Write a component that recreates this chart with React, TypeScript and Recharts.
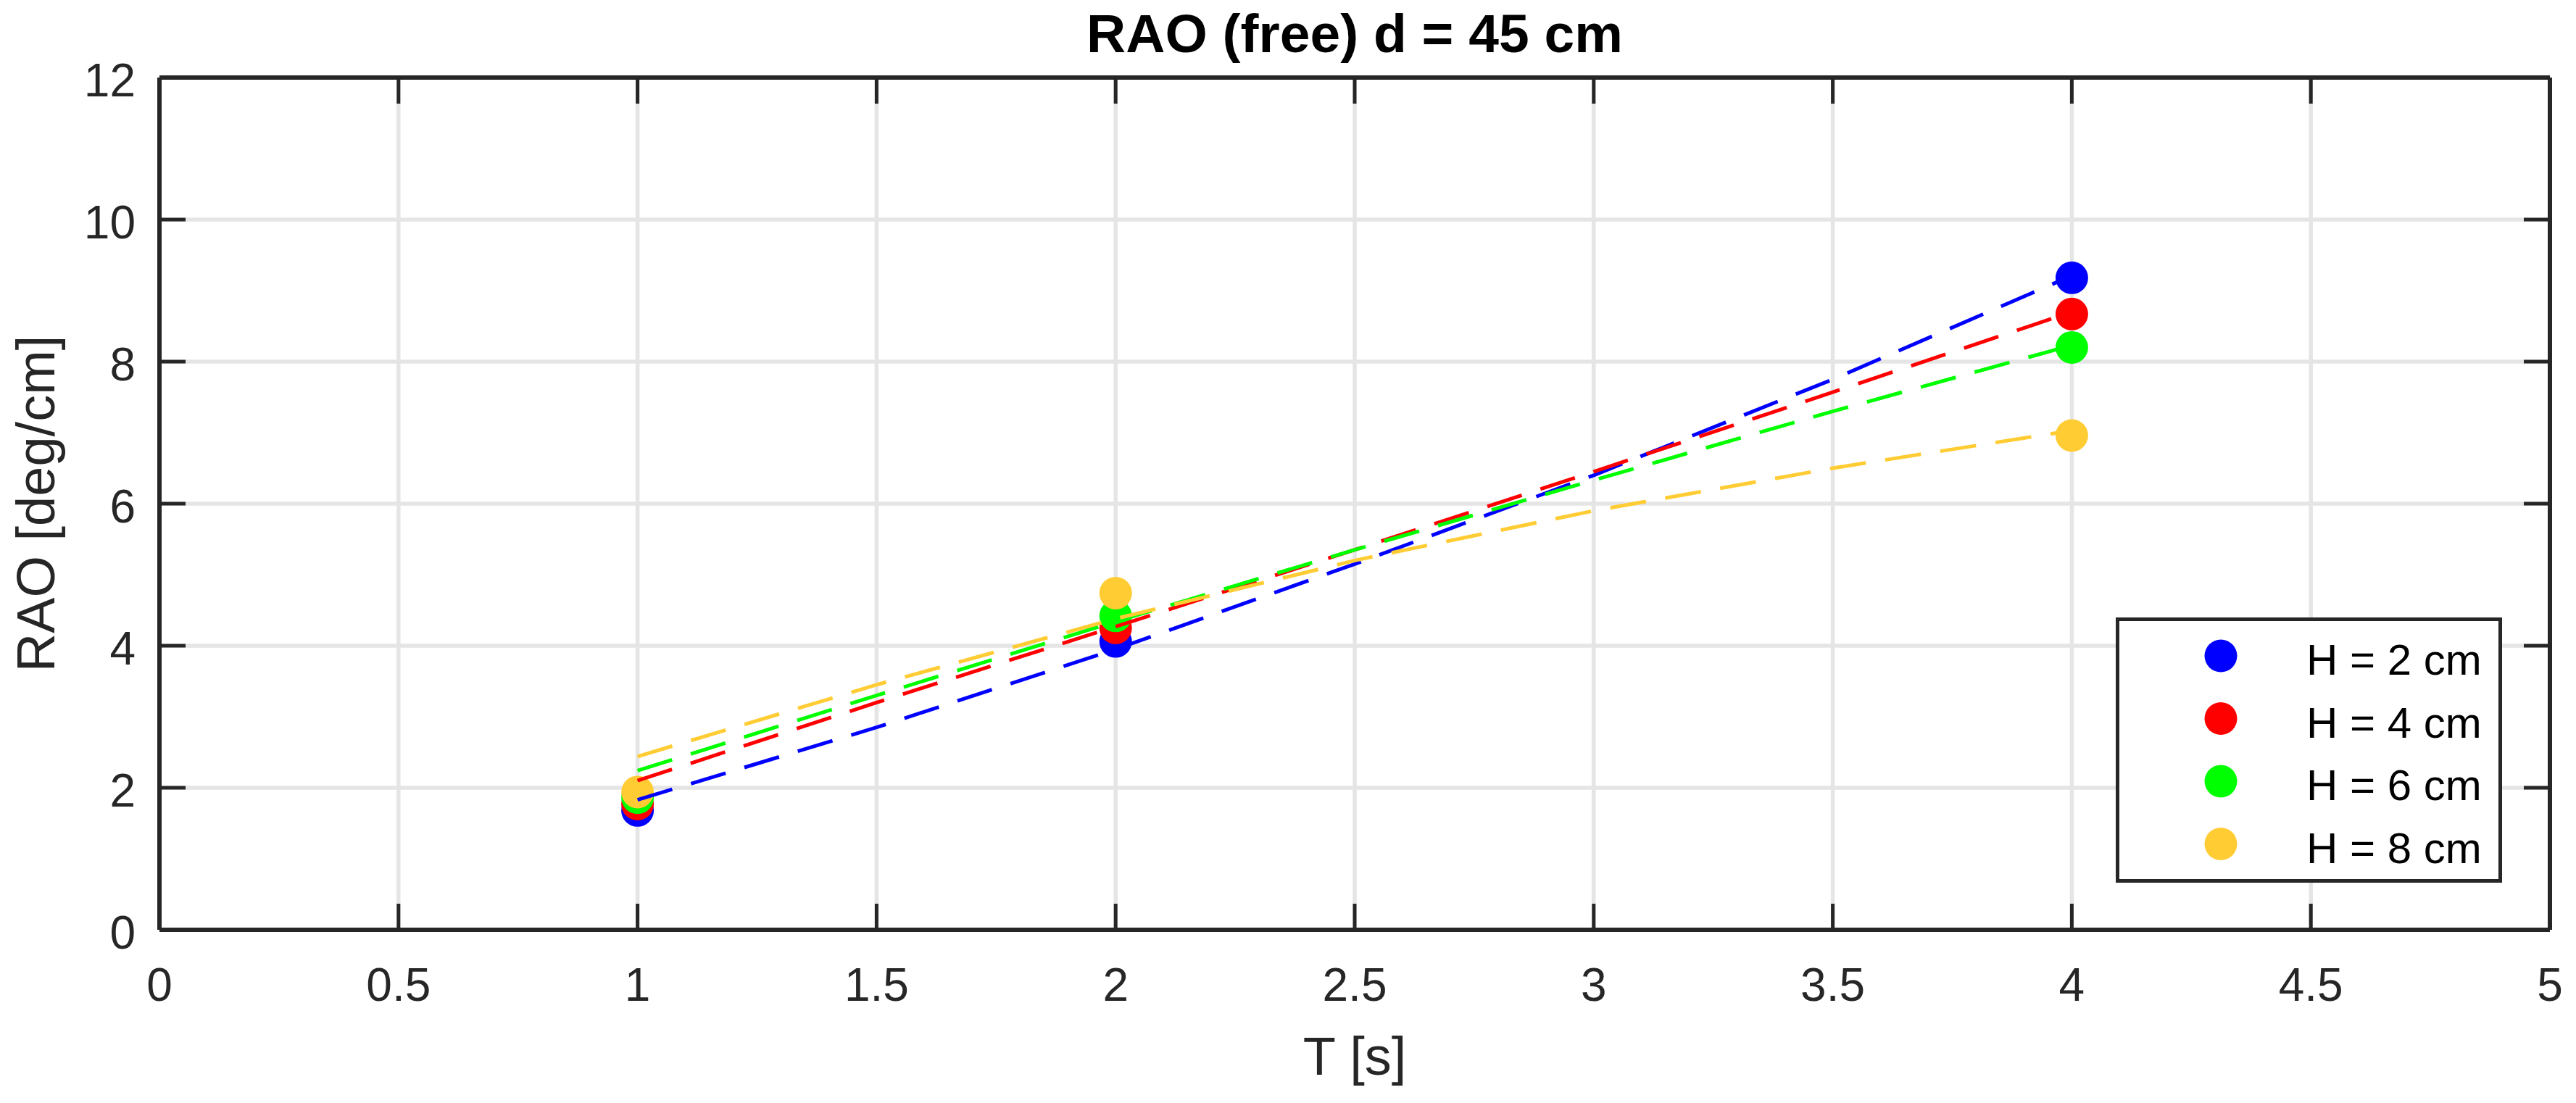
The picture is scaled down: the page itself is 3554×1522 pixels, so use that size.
import { ScatterChart, Scatter, XAxis, YAxis, CartesianGrid, Legend } from "recharts";

// measured RAO values per wave height
const T_POINTS = [1, 2, 4];
const RAO_H2 = [1.68, 4.06, 9.18];
const RAO_H4 = [1.77, 4.25, 8.67];
const RAO_H6 = [1.86, 4.42, 8.2];
const RAO_H8 = [1.94, 4.74, 6.96];

// fitted curves (dashed)
const T_FIT = [1, 1.5, 2, 2.5, 3, 3.5, 4];
const FIT_H2 = [1.83, 2.85, 3.95, 5.15, 6.4, 7.75, 9.21];
const FIT_H4 = [2.1, 3.2, 4.27, 5.35, 6.45, 7.57, 8.7];
const FIT_H6 = [2.24, 3.3, 4.34, 5.35, 6.33, 7.3, 8.23];
const FIT_H8 = [2.44, 3.45, 4.38, 5.2, 5.9, 6.5, 7.03];

const SERIES_NAMES = ["H = 2 cm", "H = 4 cm", "H = 6 cm", "H = 8 cm"];
const SERIES_COLORS = ["#0000ff", "#ff0000", "#00ff00", "#ffcc33"];

const X_TICKS = [0, 0.5, 1, 1.5, 2, 2.5, 3, 3.5, 4, 4.5, 5];
const Y_TICKS = [0, 2, 4, 6, 8, 10, 12];

const FONT = "'Liberation Sans', Arial, Helvetica, sans-serif";
const AXIS_COLOR = "#262626";
const TICK_LEN = 36;

const measured = [RAO_H2, RAO_H4, RAO_H6, RAO_H8].map((vals) =>
  T_POINTS.map((t, i) => ({ x: t, y: vals[i] }))
);
const fits = [FIT_H2, FIT_H4, FIT_H6, FIT_H8].map((vals) =>
  T_FIT.map((t, i) => ({ x: t, y: vals[i] }))
);

function LeftTick({ x, y, payload }: any) {
  return (
    <g>
      <line x1={x} x2={x + TICK_LEN} y1={y} y2={y} stroke={AXIS_COLOR} strokeWidth={5} />
      <text x={x - 33} y={y + 26} textAnchor="end" fontSize={64} fill={AXIS_COLOR} fontFamily={FONT}>
        {payload.value}
      </text>
    </g>
  );
}

function BottomTick({ x, y, payload }: any) {
  return (
    <g>
      <line x1={x} x2={x} y1={y} y2={y - TICK_LEN} stroke={AXIS_COLOR} strokeWidth={5} />
      <text x={x} y={y + 98} textAnchor="middle" fontSize={64} fill={AXIS_COLOR} fontFamily={FONT}>
        {payload.value}
      </text>
    </g>
  );
}

function RightTick({ x, y }: any) {
  return <line x1={x} x2={x - TICK_LEN} y1={y} y2={y} stroke={AXIS_COLOR} strokeWidth={5} />;
}

function TopTick({ x, y }: any) {
  return <line x1={x} x2={x} y1={y} y2={y + TICK_LEN} stroke={AXIS_COLOR} strokeWidth={5} />;
}

function XTitle({ viewBox }: any) {
  const { x, y, width } = viewBox;
  return (
    <text x={x + width / 2} y={y + 200} textAnchor="middle" fontSize={74} fill={AXIS_COLOR} fontFamily={FONT}>
      T [s]
    </text>
  );
}

function YTitle({ viewBox }: any) {
  const { x, y, width, height } = viewBox;
  const cx = x + width - 145;
  const cy = y + height / 2;
  return (
    <text
      x={cx}
      y={cy}
      transform={`rotate(-90, ${cx}, ${cy})`}
      textAnchor="middle"
      fontSize={74}
      fill={AXIS_COLOR}
      fontFamily={FONT}
    >
      RAO [deg/cm]
    </text>
  );
}

function LegendBox({ payload }: any) {
  const items = (payload ?? []).filter((p: any) => p.type !== "none");
  return (
    <div
      style={{
        boxSizing: "border-box",
        width: 533,
        height: 366,
        border: `5px solid ${AXIS_COLOR}`,
        background: "#ffffff",
      }}
    >
      <svg width={523} height={356} style={{ display: "block" }}>
        {items.map((item: any, i: number) => (
          <g key={item.value}>
            <circle cx={140} cy={48 + i * 86.5} r={22.5} fill={item.color} />
            <text x={258} y={74 + i * 86.5} fontSize={60} fill="#000000" fontFamily={FONT}>
              {item.value}
            </text>
          </g>
        ))}
      </svg>
    </div>
  );
}

export default function App() {
  return (
    <div style={{ position: "absolute", left: 0, top: 0, width: 3554, height: 1522, background: "#ffffff" }}>
      <svg
        width={3554}
        height={100}
        style={{ position: "absolute", left: 0, top: 0, pointerEvents: "none", zIndex: 1 }}
      >
        <text x={1869} y={72} textAnchor="middle" fontSize={75} fontWeight="bold" fill="#000000" fontFamily={FONT}>
          RAO (free) d = 45 cm
        </text>
      </svg>
      <ScatterChart width={3554} height={1522} margin={{ top: 0, right: 0, bottom: 0, left: 0 }}>
        <CartesianGrid stroke="#e5e5e5" strokeWidth={5.5} />
        <XAxis
          dataKey="x"
          type="number"
          domain={[0, 5]}
          ticks={X_TICKS}
          height={239}
          tickSize={0}
          tickMargin={0}
          tick={<BottomTick />}
          tickLine={false}
          axisLine={{ stroke: AXIS_COLOR, strokeWidth: 6 }}
          interval={0}
          allowDataOverflow
          label={<XTitle />}
        />
        <XAxis
          xAxisId="top"
          orientation="top"
          dataKey="x"
          type="number"
          domain={[0, 5]}
          ticks={X_TICKS}
          height={107}
          tickSize={0}
          tickMargin={0}
          tick={<TopTick />}
          tickLine={false}
          axisLine={{ stroke: AXIS_COLOR, strokeWidth: 6 }}
          interval={0}
          allowDataOverflow
        />
        <YAxis
          dataKey="y"
          type="number"
          domain={[0, 12]}
          ticks={Y_TICKS}
          width={220}
          tickSize={0}
          tickMargin={0}
          tick={<LeftTick />}
          tickLine={false}
          axisLine={{ stroke: AXIS_COLOR, strokeWidth: 6 }}
          interval={0}
          allowDataOverflow
          label={<YTitle />}
        />
        <YAxis
          yAxisId="right"
          orientation="right"
          dataKey="y"
          type="number"
          domain={[0, 12]}
          ticks={Y_TICKS}
          width={36}
          tickSize={0}
          tickMargin={0}
          tick={<RightTick />}
          tickLine={false}
          axisLine={{ stroke: AXIS_COLOR, strokeWidth: 6 }}
          interval={0}
          allowDataOverflow
        />
        {measured.map((pts, i) => (
          <Scatter
            key={`m-${i}`}
            name={SERIES_NAMES[i]}
            data={pts}
            fill={SERIES_COLORS[i]}
            isAnimationActive={false}
            shape={(p: any) => <circle cx={p.cx} cy={p.cy} r={22.5} fill={SERIES_COLORS[i]} />}
          />
        ))}
        {fits.map((pts, i) => (
          <Scatter
            key={`f-${i}`}
            name={`fit ${SERIES_NAMES[i]}`}
            data={pts}
            fill={SERIES_COLORS[i]}
            legendType="none"
            isAnimationActive={false}
            line={{ stroke: SERIES_COLORS[i], strokeWidth: 5, strokeDasharray: "50 27" }}
            shape={() => <g />}
          />
        ))}
        <Legend
          layout="vertical"
          align="center"
          verticalAlign="middle"
          content={<LegendBox />}
          wrapperStyle={{ left: 2919, top: 852, width: 533, height: 366 }}
        />
      </ScatterChart>
    </div>
  );
}
